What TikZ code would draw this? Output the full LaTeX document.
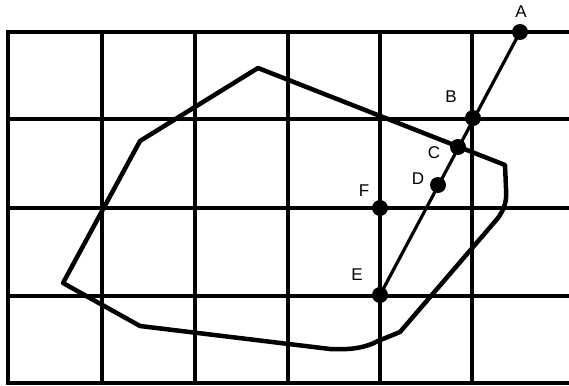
\documentclass[tikz,border=0pt]{standalone}
\usepackage{fontspec}
\setmainfont{Liberation Sans}
\tikzset{
  gridline/.style={line width=3.2pt},
  frameline/.style={line width=4.5pt},
  outline/.style={line width=4.5pt, line join=round},
  dot/.style={circle, fill=black, inner sep=0pt, minimum size=16pt},
  lbl/.style={font=\fontsize{17}{19}\selectfont, inner sep=0pt}
}
\begin{document}
\begin{tikzpicture}[x=1pt, y=-1pt]
  \useasboundingbox (0,0) rectangle (569,385);

  % Grid
  \foreach \gx in {102,195,288,380,472}
    \draw[gridline] (\gx,32) -- (\gx,383);
  \foreach \gy in {119,208,296}
    \draw[gridline] (8,\gy) -- (569,\gy);
  \draw[frameline] (569,32) -- (8,32) -- (8,383) -- (569,383);

  % Region outline
  \draw[outline] (258,68) -- (505,165) -- (506,188)
      .. controls (507,200) and (505,208) .. (498,218)
      -- (400,332) -- (378,341)
      .. controls (365,348) and (350,350) .. (330,349)
      -- (140,326) -- (63,283) -- (140,141) -- cycle;

  % Points
  \node[dot] (A) at (520,32) {};
  \node[dot] (B) at (473,118) {};
  \node[dot] (C) at (458,147) {};
  \node[dot] (D) at (438,185) {};
  \node[dot] (F) at (380,208) {};
  \node[dot] (E) at (380,295) {};

  % Labels
  \node[lbl] (labA) at (521,12) {A};
  \node[lbl] (labB) at (451,97) {B};
  \node[lbl] (labC) at (434,153) {C};
  \node[lbl] (labD) at (418,179) {D};
  \node[lbl] (labF) at (364,191) {F};
  \node[lbl] (labE) at (357,275) {E};

  % Connectors
  \draw[gridline] (A.center) -- (E.center);
  \draw[gridline] (F.center) -- (E.center);
\end{tikzpicture}
\end{document}
